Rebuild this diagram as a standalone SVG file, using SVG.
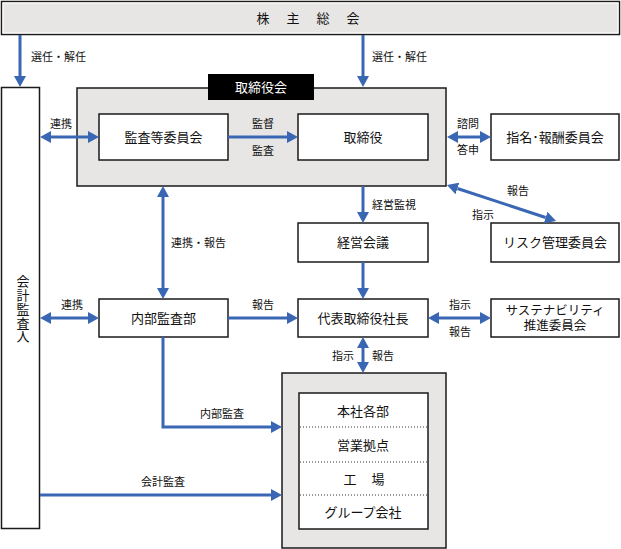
<svg xmlns="http://www.w3.org/2000/svg" width="621" height="549" viewBox="0 0 621 549">
<defs>
<style>
.box{fill:#fff;stroke:#1a1a1a;stroke-width:1.5}
.gray{fill:#e7e6e4;stroke:#1a1a1a;stroke-width:1.5}
.t{font-family:"Noto Sans CJK JP","Noto Sans",sans-serif;font-size:13px;fill:#111;text-anchor:middle}
.l{font-family:"Noto Sans CJK JP","Noto Sans",sans-serif;font-size:11px;fill:#111;text-anchor:middle}
.ls{text-anchor:start}
.c{fill:none;stroke:#3a67b4;stroke-width:3}
.a{marker-end:url(#ah)}
.d{marker-start:url(#ah);marker-end:url(#ah)}
.dot{stroke:#333;stroke-width:1;stroke-dasharray:1 2}
</style>
<marker id="ah" markerUnits="userSpaceOnUse" markerWidth="11" markerHeight="12" viewBox="0 0 11 12" refX="0" refY="6" orient="auto-start-reverse">
<path d="M0,0 L11,6 L0,12 z" fill="#3a67b4"/>
</marker>
</defs>

<g id="shareholders">
<rect class="gray" x="1.5" y="1.5" width="618" height="33"/>
<rect x="3" y="3" width="615" height="30" fill="none" stroke="#fff" stroke-width="1"/>
<text class="t" x="263 293 323 353" y="23">株主総会</text>
</g>

<g id="board">
<rect class="gray" x="77" y="88" width="369" height="98"/>
<rect x="208" y="74" width="106" height="26" fill="#000"/>
<text class="t" x="261" y="92" style="fill:#fff">取締役会</text>
</g>

<g id="auditor">
<rect class="box" x="1.5" y="87.5" width="38" height="441"/>
<text class="t" x="23 23 23 23 23" y="286 300 314 328 341">会計監査人</text>
</g>

<g id="audit-committee">
<rect class="box" x="99" y="114" width="129" height="46"/>
<text class="t" x="163.5" y="141.5">監査等委員会</text>
</g>

<g id="directors">
<rect class="box" x="298" y="114" width="130" height="46"/>
<text class="t" x="363" y="141.5">取締役</text>
</g>

<g id="nomination">
<rect class="box" x="491" y="114" width="128" height="46"/>
<text class="t" x="555" y="141.5">指名･報酬委員会</text>
</g>

<g id="mgmt-meeting">
<rect class="box" x="298" y="223" width="130" height="39"/>
<text class="t" x="363" y="247">経営会議</text>
</g>

<g id="risk">
<rect class="box" x="491" y="223" width="128" height="39"/>
<text class="t" x="555" y="247">リスク管理委員会</text>
</g>

<g id="internal-audit">
<rect class="box" x="99" y="299" width="129" height="38"/>
<text class="t" x="163.5" y="322.5">内部監査部</text>
</g>

<g id="president">
<rect class="box" x="298" y="299" width="130" height="38"/>
<text class="t" x="363" y="322.5">代表取締役社長</text>
</g>

<g id="sustainability">
<rect class="box" x="491" y="299" width="128" height="38"/>
<text class="t" style="font-size:12.5px"><tspan x="555" y="315">サステナビリティ</tspan><tspan x="555" y="330">推進委員会</tspan></text>
</g>

<g id="operations">
<rect class="gray" x="282" y="373" width="164" height="175"/>
<rect class="box" x="299" y="393" width="129" height="136"/>
<line class="dot" x1="300" y1="427" x2="427" y2="427"/>
<line class="dot" x1="300" y1="462" x2="427" y2="462"/>
<line class="dot" x1="300" y1="495" x2="427" y2="495"/>
<text class="t" x="363" y="415.5">本社各部</text>
<text class="t" x="363" y="449.5">営業拠点</text>
<text class="t" x="350 378" y="483.5">工場</text>
<text class="t" x="363" y="516.5">グループ会社</text>
</g>

<g id="connectors">
<line class="c a" x1="20" y1="35" x2="20" y2="76"/>
<line class="c a" x1="363" y1="35" x2="363" y2="76"/>
<line class="c d" x1="51" y1="137" x2="88" y2="137"/>
<line class="c a" x1="228" y1="137" x2="287" y2="137"/>
<line class="c d" x1="458" y1="137" x2="480" y2="137"/>
<line class="c d" x1="457.4" y1="188.5" x2="545.6" y2="217.5"/>
<line class="c a" x1="363" y1="186" x2="363" y2="212"/>
<line class="c a" x1="363" y1="262" x2="363" y2="288"/>
<line class="c d" x1="163" y1="197" x2="163" y2="288"/>
<line class="c d" x1="51" y1="318" x2="88" y2="318"/>
<line class="c a" x1="228" y1="318" x2="287" y2="318"/>
<line class="c d" x1="439" y1="318" x2="480" y2="318"/>
<line class="c d" x1="363" y1="348" x2="363" y2="362"/>
<path class="c a" d="M163,337 V427 H271"/>
<line class="c a" x1="40" y1="495" x2="271" y2="495"/>

<text class="l ls" x="31" y="61">選任・解任</text>
<text class="l ls" x="372" y="61">選任・解任</text>
<text class="l" x="61" y="128">連携</text>
<text class="l" x="263" y="128">監督</text>
<text class="l" x="263" y="155">監査</text>
<text class="l" x="468" y="128">諮問</text>
<text class="l" x="468" y="154">答申</text>
<text class="l ls" x="171" y="247">連携・報告</text>
<text class="l ls" x="372" y="209">経営監視</text>
<text class="l" x="518" y="195">報告</text>
<text class="l" x="483" y="219">指示</text>
<text class="l" x="72" y="309">連携</text>
<text class="l" x="263" y="309">報告</text>
<text class="l" x="460" y="309">指示</text>
<text class="l" x="460" y="336">報告</text>
<text class="l" x="343" y="360">指示</text>
<text class="l" x="383" y="360">報告</text>
<text class="l" x="222" y="418">内部監査</text>
<text class="l" x="163" y="486">会計監査</text>
</g>
</svg>
